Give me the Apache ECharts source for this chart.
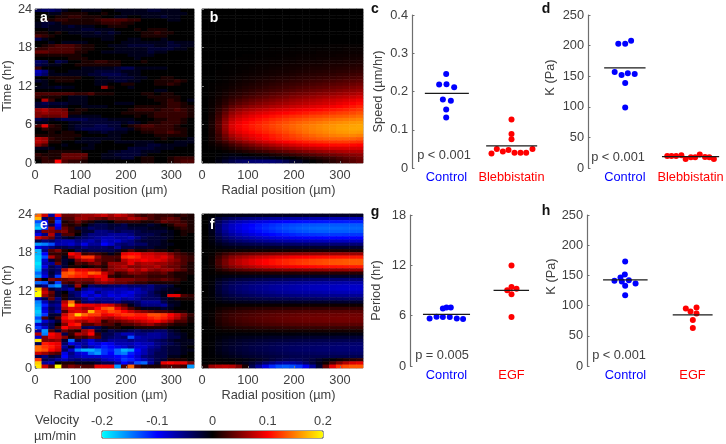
<!DOCTYPE html>
<html><head><meta charset="utf-8">
<style>html,body{margin:0;padding:0;background:#fff}#c{width:726px;height:444px;filter:blur(0.45px)}</style>
<script src="https://cdn.jsdelivr.net/npm/echarts@6/dist/echarts.min.js"></script>
</head><body><div id="c"></div>
<script>
// Heatmap rows run from t=24 hr (top) to t=0 (bottom), 24 radial columns.
// heatA, heatE in 0.01 µm/min; heatB, heatF in 0.001 µm/min.
const heatA=[
[-3,-4,-4,-3,-1,0,0,-1,-1,-1,0,0,-1,-1,-1,-1,-1,-2,-2,-1,-1,-1,0,0],
[0,0,-1,-1,1,1,1,1,0,0,1,0,0,-1,-1,-1,-1,-1,-1,-1,-1,-1,-1,0],
[0,0,0,1,1,2,2,1,1,1,0,0,-1,-1,0,0,-1,-1,-1,-2,-1,-1,0,0],
[0,1,1,2,2,1,1,1,1,2,3,3,3,3,2,2,0,0,0,0,-1,-1,0,0],
[-1,-2,-2,-1,1,1,1,1,1,1,2,2,2,1,1,0,0,0,0,0,0,0,0,0],
[-1,-2,-1,-1,-1,-2,-1,-1,-1,0,0,1,1,1,0,0,0,0,0,0,0,0,0,0],
[0,0,-1,-1,-1,-1,-1,-2,-2,-1,-1,-1,0,0,0,1,0,1,1,1,0,0,0,0],
[1,1,0,1,0,-1,-1,-1,-1,-2,-1,-2,-1,0,0,0,1,1,2,1,1,0,0,0],
[3,2,1,0,0,0,0,-1,-1,-1,-1,-1,0,0,0,0,1,1,1,1,0,0,0,0],
[-3,-1,0,0,0,0,0,0,0,0,-1,-1,0,0,-1,-1,0,0,0,-1,0,0,0,0],
[0,0,-1,0,-1,-1,-1,-1,0,0,0,0,0,-1,-1,-1,-1,-1,-1,-1,-2,-1,-1,-1],
[0,1,2,3,3,3,2,1,1,0,0,-1,-1,-1,-2,-2,-2,-2,-1,-1,-2,-2,-1,-1],
[2,2,3,3,3,3,2,1,1,0,0,0,-1,-1,-1,-1,-1,-2,-2,-2,-2,-1,-1,0],
[4,4,3,3,3,3,1,1,0,0,-1,-1,-1,-1,-1,-1,-1,-2,-1,-1,0,0,0,0],
[1,1,1,1,1,1,1,0,0,0,0,0,0,0,-1,-1,-1,-1,0,0,0,0,0,0],
[0,0,0,0,0,1,1,1,0,0,0,0,0,0,0,-1,0,0,0,0,0,0,0,0],
[-4,-3,0,-3,-2,0,0,1,1,2,2,1,1,0,0,0,1,0,0,0,0,0,0,0],
[-3,-2,-1,-1,0,0,1,1,1,1,1,1,1,0,0,0,0,0,0,0,0,0,0,0],
[2,0,0,0,0,0,0,-1,-1,-1,-1,-1,-2,-3,-3,-1,-1,-1,-1,-1,0,0,0,0],
[-7,-5,-1,0,0,-1,-1,-1,-1,-2,-2,-2,-2,-1,-1,-1,0,0,0,0,0,0,0,0],
[-6,-4,-1,-1,-1,-1,-1,-1,-2,-2,-3,-3,-3,-2,-1,-1,0,0,0,0,0,0,0,0],
[0,0,1,1,1,1,1,0,0,-1,-1,-2,-2,-2,-2,-1,-1,0,0,1,1,0,0,0],
[-2,-1,0,1,1,1,0,0,0,-1,-1,-1,-2,-2,-1,-1,0,0,1,1,1,2,1,0],
[0,-1,0,0,0,0,0,0,0,-1,-1,0,0,1,1,0,0,0,1,1,2,1,0,0],
[-1,-1,-1,-2,-1,-1,0,0,0,0,6,1,0,0,-1,0,0,0,0,0,0,0,0,0],
[0,0,0,0,0,0,0,0,0,0,0,0,0,0,0,0,0,0,-1,-1,0,0,0,0],
[3,3,3,3,3,3,2,2,3,1,1,1,0,0,0,0,1,1,0,1,1,0,0,0],
[2,1,1,1,0,-1,-1,-1,0,0,0,0,0,0,0,0,0,1,1,1,1,1,0,0],
[0,7,2,0,0,-1,-1,-1,0,0,0,0,0,0,0,0,0,0,1,1,2,1,0,-1],
[-2,-3,-2,-2,-2,-1,-1,-1,0,0,0,0,-1,-1,-1,0,0,0,0,1,2,2,1,0],
[-2,-2,-1,-1,-1,0,0,-1,-1,-1,-1,0,0,0,0,1,1,1,1,1,2,2,1,1],
[6,7,5,5,4,0,1,1,0,0,0,0,0,0,1,2,2,2,1,2,2,3,2,1],
[5,6,5,5,5,1,1,0,0,0,0,0,0,1,1,1,1,1,2,2,2,2,2,1],
[5,4,4,4,5,-1,-1,-1,-1,-1,0,0,0,0,0,1,0,1,2,2,2,2,2,1],
[-3,-2,-1,-2,-3,-3,-3,-3,-2,-2,-2,-1,-1,-1,-1,0,0,0,1,1,2,2,1,0],
[-1,-1,0,0,0,-1,-1,-2,-2,-2,-2,-2,-2,-1,-2,-1,0,1,1,2,2,2,1,0],
[3,9,2,1,0,-1,-2,-2,-2,-3,-3,-2,-2,0,1,2,3,3,2,2,2,1,0,0],
[0,2,1,1,0,-1,-2,-3,-3,-3,-3,-3,-2,-2,-1,1,2,2,2,2,2,1,1,0],
[0,0,1,0,1,1,0,0,-1,-1,-2,-1,-1,-1,0,0,1,1,2,2,3,2,1,0],
[1,1,1,1,1,1,1,0,0,0,0,-1,-1,0,0,0,0,0,1,1,1,1,1,0],
[7,6,2,1,1,1,0,-1,-1,-1,-1,-1,-1,0,0,0,0,0,0,1,0,0,0,-1],
[7,6,1,1,0,0,-1,-1,-1,-1,0,0,-1,-1,-1,-1,-1,-1,0,0,0,-1,-1,-1],
[5,3,0,0,-1,0,0,0,-1,0,0,0,0,0,0,-1,-1,-2,-2,-1,-1,-1,-1,0],
[-1,-1,-1,0,0,0,0,-1,-1,0,0,0,0,0,-2,-2,-2,-2,-1,-1,-1,0,0,0],
[0,0,1,1,1,1,1,0,0,0,0,-1,-1,-2,-2,-2,-1,-1,-1,0,0,0,0,0],
[2,1,1,1,4,4,4,4,0,0,-1,-1,-2,-2,-2,-2,-1,0,0,0,0,0,0,0],
[1,2,1,1,4,4,4,3,0,0,-1,-1,-1,-2,-2,0,1,1,0,0,1,2,2,2],
[0,2,2,10,3,2,2,1,0,0,0,0,0,0,0,0,1,1,0,0,1,2,3,3]];
const heatE=[
[14,8,-6,10,4,4,5,6,6,7,8,6,8,7,5,3,2,3,2,2,2,1,2,1],
[17,-4,3,-9,3,3,6,6,5,4,3,5,5,5,7,6,5,3,2,3,4,3,1,1],
[-13,-10,2,-12,1,2,4,2,1,-1,-1,0,2,2,2,2,1,1,2,4,3,3,2,1],
[-16,-8,-3,-10,2,1,2,0,-2,-3,-3,-2,-2,-3,-1,-1,-1,-2,-1,0,1,3,3,1],
[-18,-12,6,-8,4,2,-2,-2,-4,-3,-3,-2,-3,-3,-2,-2,-2,-1,-1,-1,0,1,2,1],
[-6,5,5,4,5,2,1,-2,-2,-5,-5,-4,-3,-4,-4,-3,-2,-2,-2,-2,-1,0,1,1],
[-9,-5,7,-4,3,3,0,-3,-5,-5,-5,-6,-6,-6,-5,-3,-3,-3,-2,-1,-1,0,1,0],
[8,6,4,-4,-2,-1,-3,-4,-5,-6,-7,-7,-6,-6,-7,-5,-3,-2,-2,-2,-1,0,0,0],
[-3,-5,-4,-6,-7,-7,-5,-6,-7,-5,-8,-7,-8,-6,-5,-3,-2,-2,-2,-1,0,0,0,0],
[-16,-15,-13,-7,-7,-8,-6,-9,-6,-6,-10,-8,-5,-4,-5,-4,-4,-2,-2,-1,-1,0,0,0],
[-9,-7,-5,-3,-3,-4,-3,-5,-4,-4,-4,-3,-6,-3,-3,-2,-2,-2,-1,-1,0,0,0,0],
[-17,-5,3,5,1,0,-3,-2,-3,-3,-3,-3,-2,1,3,1,1,2,1,1,0,1,0,0],
[-17,-10,2,2,1,10,8,2,3,2,1,-1,1,9,10,10,8,8,7,7,5,3,2,1],
[-18,-13,7,3,-1,6,9,12,12,6,3,3,3,11,12,11,9,9,8,9,7,4,3,2],
[-18,-8,-2,2,-2,-1,5,7,8,4,3,3,2,7,9,9,10,9,9,8,6,5,3,2],
[-19,-7,-6,4,-2,0,3,2,4,5,2,6,6,6,9,6,7,7,6,6,5,4,3,1],
[-18,-9,-3,-5,-2,1,1,0,1,2,1,5,6,7,5,5,6,6,7,5,4,4,2,1],
[-17,-6,-3,-4,7,12,9,9,8,7,3,5,6,6,8,6,8,6,5,6,6,4,3,1],
[-14,-7,-2,-5,13,14,12,11,14,13,8,5,2,3,5,5,4,3,3,4,2,1,1,1],
[-16,-9,-3,-12,13,12,11,11,9,10,9,2,1,2,2,3,3,2,2,2,2,1,1,0],
[4,0,5,4,4,5,5,5,5,7,9,7,5,5,5,4,4,3,3,4,3,2,1,0],
[-14,-13,-2,-12,3,2,4,3,3,5,6,5,4,4,3,2,2,1,1,1,1,1,0,0],
[-3,-5,-14,-16,-4,-2,6,0,-4,-3,-3,-4,-4,-5,-4,-4,-4,-5,-3,-3,-2,0,0,0],
[18,6,-2,-4,-5,-7,1,-5,-7,-7,-6,-6,-7,-7,-6,-7,-5,-5,-3,-2,-1,-1,0,0],
[20,8,4,-2,0,-4,-5,-8,-9,-5,-7,-8,-7,-8,-9,-7,-6,-4,-2,-1,-1,0,0,0],
[20,6,3,-2,1,-3,-5,-9,-7,-9,-7,-9,-8,-9,-8,-6,-5,-4,-3,-1,9,9,3,2],
[-7,-3,4,-5,1,-3,-3,-5,-8,-6,-6,-6,-8,-6,-7,-6,-4,-4,-4,-2,-1,1,1,1],
[-15,-7,-3,-4,7,14,2,-4,-5,-4,-5,-5,-5,-3,-3,-4,-6,-6,-6,-3,-1,-1,0,0],
[-16,-11,-5,-6,9,17,10,9,9,8,9,8,5,3,-1,-3,-5,-5,-5,-6,-2,-1,0,0],
[-17,-8,-3,-5,7,9,8,6,7,10,13,14,9,6,3,1,-1,-1,-1,-2,-1,0,0,0],
[-18,-9,-4,-7,3,8,9,8,17,12,11,13,12,10,8,6,5,4,3,3,2,1,1,0],
[-17,-12,-2,-2,8,12,18,14,12,12,9,10,11,12,12,11,11,13,13,12,10,8,5,2],
[-13,3,-1,3,10,12,11,10,9,8,7,6,8,9,10,10,10,11,12,11,9,7,4,1],
[-16,-8,-5,-2,8,9,7,6,8,7,2,4,4,5,6,7,8,9,10,8,6,3,3,1],
[-8,-5,-3,0,5,10,11,3,3,5,3,3,1,3,3,4,5,6,4,3,2,1,1,0],
[-12,-8,-3,3,10,7,7,-3,-4,-3,-1,1,1,0,0,1,1,1,1,1,0,0,0,0],
[-6,-16,3,-2,4,2,1,6,8,-2,-1,-3,-2,-2,-3,-4,-3,-3,-4,-4,-2,-1,0,0],
[7,-15,10,8,-3,2,7,6,10,2,-3,-3,-5,-7,-7,-5,-5,-6,-6,-5,-3,-2,-1,0],
[-8,5,9,8,5,1,3,2,4,3,-3,-4,-5,-4,-13,-7,-6,-6,-6,-5,-3,-3,-1,0],
[19,5,5,6,-2,-14,-3,-6,-8,-5,-4,-6,-6,-6,-5,-6,-6,-5,-4,-3,-2,-1,-1,-1],
[-3,11,10,9,-4,-9,-7,-6,-9,-8,-10,-9,-7,-7,-7,-8,-7,-7,-5,-4,-3,-2,-1,-1],
[14,12,11,9,-6,-2,-8,-5,-7,-9,-11,-10,-9,-8,-6,-8,-8,-6,-5,-3,-2,-2,-1,0],
[14,13,10,8,-4,-8,-15,-17,-17,-15,-12,-11,-14,-17,-16,-10,-7,-5,-4,-3,-2,-2,-1,-1],
[8,6,4,3,-9,-5,-8,-9,-14,-16,-12,-10,-14,-15,-11,-9,-7,-5,-3,-3,-2,-2,-1,0],
[-3,-5,-2,-3,-10,-6,-7,-8,-8,-8,-9,-9,-10,-11,-10,-8,-5,-4,-3,-3,-1,-1,0,0],
[12,-3,-4,-6,-7,-5,-4,-5,-5,-5,-7,-8,-9,-12,-11,-9,-7,-5,-3,-2,1,1,1,0],
[18,-6,-7,0,1,1,-1,-1,-1,-2,-3,-3,-6,-10,-7,-13,-14,-6,-2,9,10,9,9,5],
[19,8,3,20,3,5,4,3,3,9,9,9,-16,3,14,3,1,1,1,3,3,3,2,-16]];
const heatB=[
[0,0,0,0,0,0,0,0,0,0,0,0,0,0,0,0,0,0,0,0,0,0,0,0],
[0,0,0,0,0,0,0,0,0,0,0,0,0,0,0,0,0,0,0,0,0,0,0,0],
[0,0,0,0,0,0,0,0,0,0,0,0,0,0,0,0,0,0,0,0,0,0,0,0],
[0,0,0,0,0,0,0,0,0,0,0,0,0,0,0,0,0,0,0,0,0,0,0,0],
[0,0,0,0,0,0,0,0,0,0,0,0,0,0,0,0,0,0,0,0,0,0,0,0],
[0,0,0,0,0,0,0,0,0,0,0,0,0,0,0,0,0,0,0,0,0,0,0,0],
[0,0,0,0,0,0,0,0,0,0,0,0,0,0,0,0,0,0,0,0,0,0,0,0],
[0,0,0,0,0,0,0,0,0,0,0,0,0,0,0,0,0,0,0,0,0,0,0,0],
[0,0,0,0,0,0,0,0,0,0,0,0,0,0,0,0,0,0,0,0,0,0,0,0],
[0,0,0,0,0,0,0,0,0,0,0,0,0,0,0,0,0,0,0,0,0,0,0,0],
[0,0,0,0,0,0,0,0,0,0,0,0,0,0,0,0,0,0,0,0,0,0,0,0],
[0,0,0,0,0,0,0,0,0,0,0,0,0,0,1,1,1,1,1,2,2,2,2,2],
[0,0,0,0,0,0,0,0,0,0,1,1,1,1,1,1,2,2,2,2,2,3,3,3],
[0,0,0,0,0,0,0,0,1,1,1,1,1,2,2,2,2,3,3,3,3,4,4,4],
[0,0,0,0,0,0,1,1,1,1,1,2,2,2,3,3,3,4,4,4,5,5,6,6],
[0,0,0,0,0,1,1,1,1,2,2,2,3,3,4,4,4,5,5,6,6,7,7,8],
[0,0,0,0,1,1,1,1,2,2,3,3,4,4,5,5,6,6,7,8,8,9,9,10],
[0,0,0,1,1,1,2,2,3,3,4,4,5,6,6,7,8,8,9,10,10,11,12,13],
[0,0,0,1,1,2,2,3,4,4,5,6,7,7,8,9,10,10,11,12,13,14,15,16],
[0,0,1,1,2,2,3,4,5,6,7,8,8,9,10,11,12,13,14,15,16,17,19,20],
[0,0,1,1,2,3,4,5,6,7,8,9,10,11,13,14,15,16,17,18,20,21,23,25],
[0,0,1,2,3,4,5,7,8,9,11,12,13,14,16,17,18,20,21,22,24,26,28,30],
[0,0,1,2,4,5,7,8,10,12,13,15,16,18,19,21,23,24,26,28,30,32,34,36],
[0,1,2,3,5,7,9,11,13,15,17,19,21,22,24,26,28,30,32,34,36,38,41,44],
[0,1,3,4,7,9,12,14,16,19,21,23,25,27,30,32,34,36,38,41,43,46,49,52],
[0,1,3,6,9,12,15,18,21,23,26,28,31,33,36,38,41,43,46,48,51,54,57,60],
[0,2,4,8,12,15,19,22,26,29,32,35,38,41,44,46,49,52,54,57,60,63,66,70],
[0,2,6,10,16,20,25,29,33,36,40,43,46,50,53,56,59,62,65,68,71,74,78,82],
[0,3,8,14,22,28,33,38,42,46,49,53,56,60,63,66,69,72,76,79,82,86,90,95],
[0,3,9,17,27,34,40,45,50,54,57,61,64,67,70,73,76,79,82,85,90,94,99,104],
[0,4,12,23,36,44,50,56,60,64,68,71,75,78,81,84,87,90,93,96,100,104,108,113],
[0,5,16,30,46,56,63,68,73,77,81,85,88,91,94,97,99,102,105,108,111,114,118,122],
[0,6,20,38,56,66,74,80,85,89,93,97,100,103,106,109,112,114,117,120,123,125,128,132],
[0,7,24,45,65,76,84,90,96,101,105,109,113,116,119,122,125,127,130,132,134,136,139,142],
[0,8,27,52,74,85,93,99,105,110,115,119,123,127,130,133,136,138,141,143,146,148,150,152],
[0,9,30,57,81,92,100,106,111,116,121,126,130,134,138,141,144,147,150,153,155,157,159,160],
[0,10,31,60,86,96,104,110,115,120,125,130,135,139,143,147,150,153,156,158,161,162,164,165],
[0,9,30,58,83,94,102,108,113,118,123,128,133,138,142,146,150,153,156,159,162,163,165,165],
[0,8,27,53,77,87,95,102,108,113,118,123,128,133,138,143,147,150,153,156,159,160,161,160],
[0,7,22,44,65,76,85,92,98,104,110,115,120,125,130,135,139,143,146,149,151,152,152,150],
[0,7,21,38,55,67,77,86,93,100,106,111,116,120,124,128,131,134,136,138,139,139,138,135],
[0,5,14,25,38,48,58,66,74,81,87,93,98,103,107,111,114,117,119,121,122,122,120,118],
[0,3,8,14,24,32,40,47,55,61,67,73,78,83,88,92,96,99,101,103,104,104,102,100],
[0,1,3,7,13,19,25,31,37,42,47,52,57,61,66,70,74,77,80,83,84,85,85,85],
[0,0,0,2,5,8,12,16,20,24,29,33,37,42,46,50,54,58,61,64,67,69,70,70],
[0,0,-1,-3,-5,-3,0,2,4,6,10,13,17,21,25,29,33,37,40,44,47,50,53,55],
[0,0,-3,-8,-14,-15,-14,-13,-11,-10,-7,-4,-2,1,5,9,12,16,20,24,30,35,40,45],
[0,-1,-8,-18,-28,-36,-40,-44,-46,-46,-45,-40,-30,-20,-14,-5,0,5,10,16,22,28,34,40]];
const heatF=[
[0,-1,-4,-6,-7,-8,-9,-10,-11,-11,-12,-12,-13,-13,-13,-14,-14,-14,-14,-15,-15,-15,-15,-15],
[0,-6,-20,-30,-38,-43,-48,-51,-54,-57,-60,-62,-64,-65,-66,-67,-68,-69,-69,-70,-70,-70,-70,-70],
[0,-8,-32,-50,-62,-70,-76,-81,-86,-90,-94,-97,-100,-102,-104,-105,-106,-107,-108,-109,-109,-110,-110,-110],
[0,-11,-40,-62,-76,-86,-94,-100,-107,-112,-117,-121,-125,-128,-130,-132,-133,-134,-135,-135,-135,-135,-135,-135],
[0,-11,-42,-64,-78,-88,-96,-103,-110,-116,-121,-126,-130,-133,-136,-138,-140,-141,-141,-141,-141,-140,-140,-140],
[0,-10,-38,-58,-72,-82,-90,-97,-104,-110,-115,-120,-124,-128,-131,-133,-135,-136,-136,-136,-136,-136,-135,-135],
[0,-9,-32,-50,-62,-71,-79,-85,-91,-97,-102,-106,-110,-113,-116,-118,-119,-120,-121,-121,-121,-120,-120,-120],
[0,-7,-25,-40,-50,-58,-64,-69,-74,-79,-83,-87,-90,-93,-95,-97,-98,-99,-100,-100,-100,-100,-100,-100],
[0,-5,-18,-29,-37,-42,-47,-51,-55,-58,-61,-64,-66,-68,-70,-71,-72,-73,-74,-74,-75,-75,-75,-75],
[0,-3,-10,-17,-22,-25,-28,-30,-32,-34,-36,-38,-39,-40,-41,-42,-43,-44,-44,-45,-45,-45,-45,-45],
[0,-1,-4,-7,-9,-10,-11,-12,-13,-14,-14,-15,-16,-16,-17,-17,-17,-18,-18,-18,-18,-18,-18,-18],
[0,0,2,3,4,4,5,5,5,6,6,6,7,7,7,7,8,8,8,8,8,8,8,8],
[0,2,12,22,30,35,38,41,44,46,48,50,52,53,54,55,56,57,58,58,59,59,60,60],
[0,4,22,38,52,60,66,72,78,82,86,90,93,96,98,100,102,104,105,106,107,108,109,110],
[0,5,28,46,62,72,80,88,94,100,105,110,114,117,120,122,125,127,129,131,132,134,135,135],
[0,5,28,46,62,72,80,88,94,100,105,110,114,118,121,124,126,128,130,132,133,134,135,135],
[0,4,22,38,50,58,65,71,77,82,86,90,93,96,98,100,102,104,105,106,107,108,109,110],
[0,2,12,20,27,32,36,39,42,45,47,49,51,52,53,54,55,56,57,58,58,59,60,60],
[0,1,3,5,7,8,9,10,10,11,12,12,13,13,14,14,14,14,15,15,15,15,15,15],
[0,-1,-3,-6,-7,-8,-9,-10,-11,-11,-12,-12,-13,-13,-14,-14,-14,-14,-15,-15,-15,-15,-15,-15],
[0,-2,-10,-16,-21,-24,-26,-28,-30,-32,-34,-35,-36,-38,-39,-40,-41,-42,-43,-44,-44,-45,-45,-45],
[0,-3,-16,-25,-31,-36,-39,-42,-45,-47,-49,-51,-53,-55,-57,-58,-60,-61,-62,-63,-64,-65,-65,-65],
[0,-4,-20,-30,-38,-43,-47,-51,-54,-57,-60,-62,-64,-66,-68,-70,-72,-73,-74,-75,-76,-77,-78,-78],
[0,-4,-20,-31,-39,-44,-48,-52,-55,-58,-61,-63,-65,-67,-69,-71,-73,-74,-75,-76,-78,-79,-80,-80],
[0,-3,-18,-28,-35,-40,-44,-47,-50,-53,-55,-58,-60,-62,-63,-64,-65,-66,-68,-69,-70,-71,-72,-72],
[0,-3,-14,-22,-28,-32,-35,-38,-41,-43,-45,-47,-48,-50,-51,-52,-53,-54,-55,-56,-57,-57,-58,-58],
[0,-2,-9,-15,-19,-22,-24,-26,-28,-30,-31,-32,-33,-34,-35,-36,-37,-38,-38,-39,-39,-40,-40,-40],
[0,-1,-4,-7,-9,-10,-11,-12,-13,-13,-14,-14,-15,-15,-16,-16,-16,-17,-17,-17,-18,-18,-18,-18],
[0,0,1,2,2,3,3,3,3,4,4,4,4,4,4,5,5,5,5,5,5,5,5,5],
[0,1,6,9,11,13,14,15,16,17,17,18,18,19,19,20,20,20,21,21,21,22,22,22],
[0,2,9,14,17,20,22,24,26,27,28,29,30,30,31,32,32,33,33,34,34,35,35,35],
[0,3,12,18,22,25,27,29,31,33,35,36,37,38,39,40,40,41,41,42,42,43,43,43],
[0,3,13,19,24,27,30,32,34,36,37,39,40,41,42,43,44,44,45,45,46,46,46,46],
[0,3,12,18,22,25,28,30,32,34,35,37,38,39,40,41,42,42,43,43,44,44,44,44],
[0,2,10,15,18,21,23,25,26,28,29,30,31,32,32,33,33,34,34,34,35,35,35,35],
[0,1,6,9,11,13,14,15,17,18,18,19,20,20,21,21,21,21,22,22,22,22,22,22],
[0,0,2,3,4,4,5,5,6,6,6,7,7,7,7,7,8,8,8,8,8,8,8,8],
[0,0,-1,-2,-2,-3,-3,-3,-3,-4,-4,-4,-4,-4,-5,-5,-5,-5,-5,-5,-6,-6,-6,-6],
[0,-1,-4,-6,-8,-9,-10,-11,-12,-13,-14,-14,-15,-15,-16,-16,-17,-17,-18,-18,-19,-19,-20,-20],
[0,-1,-6,-10,-13,-15,-17,-18,-20,-21,-22,-23,-24,-25,-26,-27,-28,-29,-29,-30,-30,-31,-31,-32],
[0,-2,-8,-12,-15,-18,-21,-23,-25,-27,-29,-31,-32,-33,-34,-35,-36,-37,-38,-39,-40,-41,-41,-42],
[0,-2,-9,-14,-18,-21,-24,-27,-29,-31,-33,-35,-37,-38,-39,-40,-41,-42,-43,-44,-45,-45,-46,-46],
[0,-2,-9,-14,-18,-21,-24,-27,-29,-31,-33,-35,-37,-39,-40,-41,-42,-43,-44,-44,-45,-45,-46,-46],
[0,-2,-7,-11,-15,-18,-21,-23,-25,-27,-29,-31,-33,-34,-35,-36,-37,-38,-39,-39,-40,-40,-40,-40],
[0,-1,-4,-7,-10,-13,-16,-18,-20,-22,-24,-26,-28,-30,-31,-31,-31,-31,-31,-31,-30,-30,-30,-30],
[0,0,-1,-2,-3,-4,-6,-9,-13,-18,-24,-29,-33,-35,-34,-30,-24,-16,-8,-2,5,10,14,18],
[0,2,2,1,0,-5,-10,-18,-28,-40,-50,-60,-65,-62,-55,-40,-25,-10,5,30,50,70,85,90],
[10,60,70,75,70,50,10,-30,-60,-90,-115,-130,-135,-130,-120,-95,-60,-20,40,90,120,130,135,135]];

// Dot plots: x in group units (first group = 1, second = 2), y in axis units.
const speedControlX=[0.995,0.887,1,1.118,0.944,1.067,0.995,0.995];
const speedControlY=[0.246,0.218,0.219,0.211,0.179,0.176,0.153,0.132];
const speedBlebbX=[2,2,2,1.692,1.774,1.867,1.954,2.046,2.138,2.226,2.323];
const speedBlebbY=[0.127,0.089,0.075,0.038,0.05,0.043,0.047,0.04,0.04,0.04,0.05];
const stiffControlX=[0.9,1.005,1.095,0.845,0.95,1.045,1.15,1.005,1.005];
const stiffControlY=[203,203,208,157,152,155,153.5,139,99];
const stiffBlebbX=[1.645,1.71,1.78,1.86,1.925,2.005,2.07,2.14,2.22,2.285,2.355];
const stiffBlebbY=[19.7,19.7,19.7,20.8,14.8,17.5,17.5,22,18,17.5,14.8];
const periodControlX=[0.74,0.847,0.944,1.05,1.158,1.255,0.944,1,1.066];
const periodControlY=[5.67,5.87,5.83,5.83,5.67,5.59,6.86,6.98,6.98];
const periodEgfX=[2,2,1.934,2.077,2,2];
const periodEgfY=[11.97,9.42,9.02,9.22,8.54,5.83];
const kControlX=[0.995,0.99,0.925,0.835,0.945,1.05,0.995,1.15,0.995];
const kControlY=[172.9,151.4,146.5,141,139.9,142,133,136.6,117];
const kEgfX=[1.9,2.06,1.97,2.06,2.005,2.005];
const kEgfY=[95.3,97,90.3,87,76,62.8];
// Mean lines: [x start, x end, level]
const speedMeans=[[0.667,1.344,0.195],[1.61,2.395,0.058]];
const stiffMeans=[[0.685,1.315,163.5],[1.565,2.435,18.6]];
const periodMeans=[[0.638,1.362,6.15],[1.724,2.27,9.02]];
const kMeans=[[0.665,1.33,142.6],[1.705,2.3,84.8]];
const radialTicks=[0,350,100], timeTicks=[0,24,6];
const colorTicks=[-0.2,0.2,0.1];

const TXT='#404040', AX='#6e6e6e', FONT='"Liberation Sans",Arial,sans-serif', FS=12.8;
const grid=[],xAxis=[],yAxis=[],series=[],graphic=[];
const cols=[...Array(24).keys()], rows=[...Array(48).keys()];
function text(t,x,y,o){graphic.push({type:'text',x,y,z:100,silent:true,style:Object.assign({text:t,fill:TXT,font:FS+'px '+FONT,textAlign:'center',textVerticalAlign:'middle'},o||{})});}

function heat(left,top,data,unit,showY){
  const g=grid.length;
  grid.push({left,top,width:161,height:154,show:true,borderColor:'#8c8c8c',borderWidth:1,backgroundColor:'transparent'});
  const cx=xAxis.length, cy=yAxis.length;
  xAxis.push({gridIndex:g,type:'category',data:cols,show:false});
  xAxis.push({gridIndex:g,type:'value',position:'bottom',min:radialTicks[0],max:radialTicks[1],interval:radialTicks[2],z:5,
    axisLine:{show:false},splitLine:{show:false},axisTick:{show:true,inside:true,length:2,lineStyle:{color:'#777'}},
    axisLabel:{show:true,color:TXT,fontFamily:FONT,fontSize:FS,margin:6,showMaxLabel:false},
    name:'Radial position (µm)',nameLocation:'middle',nameGap:21,nameTextStyle:{color:TXT,fontFamily:FONT,fontSize:FS,padding:[0,8,0,0]}});
  yAxis.push({gridIndex:g,type:'category',data:rows,inverse:true,show:false});
  yAxis.push({gridIndex:g,type:'value',position:'left',min:timeTicks[0],max:timeTicks[1],interval:timeTicks[2],z:5,
    axisLine:{show:false},splitLine:{show:false},axisTick:{show:true,inside:true,length:2,lineStyle:{color:'#777'}},
    axisLabel:{show:showY,color:TXT,fontFamily:FONT,fontSize:FS,margin:3,padding:[3,0,0,0]},
    name:showY?'Time (hr)':'',nameLocation:'middle',nameGap:20,nameTextStyle:{color:TXT,fontFamily:FONT,fontSize:FS}});
  const pts=[];
  data.forEach((row,r)=>row.forEach((v,c)=>pts.push([c,r,v*unit])));
  series.push({type:'heatmap',xAxisIndex:cx,yAxisIndex:cy,data:pts,silent:true,itemStyle:{borderWidth:0},emphasis:{disabled:true},progressive:0,animation:false});
}
function dots(left,top,height,axisOffset,yMax,yStep,cats,xs1,ys1,xs2,ys2,means,width,nameText,nameGap,namePad){
  const g=grid.length;
  grid.push({left,top,width,height});
  const xc=xAxis.length, xv=xc+1, yi=yAxis.length;
  xAxis.push({gridIndex:g,type:'category',data:cats,axisLine:{show:false},axisTick:{show:false},
    axisLabel:{fontFamily:FONT,fontSize:FS,margin:3,interval:0,color:(v,i)=>v==='Control'?'#0000ff':'#ff0000'}});
  xAxis.push({gridIndex:g,type:'value',min:0.5,max:2.5,show:false});
  yAxis.push({gridIndex:g,type:'value',min:0,max:yMax,interval:yStep,offset:axisOffset,splitLine:{show:false},
    axisLine:{show:true,lineStyle:{color:AX,width:1.2}},axisTick:{show:true,inside:true,length:2.5,lineStyle:{color:AX}},
    axisLabel:{color:TXT,fontFamily:FONT,fontSize:FS,margin:4,padding:[3,0,0,0]},
    name:nameText,nameLocation:'middle',nameGap,nameTextStyle:{color:TXT,fontFamily:FONT,fontSize:FS,padding:namePad}});
  const sc=(xs,ys,color)=>series.push({type:'scatter',xAxisIndex:xv,yAxisIndex:yi,symbol:'circle',symbolSize:6,silent:true,
    itemStyle:{color,opacity:1},data:xs.map((x,i)=>[x,ys[i]]),z:3,animation:false});
  means.forEach(m=>series.push({type:'line',xAxisIndex:xv,yAxisIndex:yi,data:[[m[0],m[2]],[m[1],m[2]]],showSymbol:false,silent:true,z:4,
    lineStyle:{color:'#1a1a1a',width:1.2},animation:false}));
  sc(xs1,ys1,'#0000ff'); sc(xs2,ys2,'#ff0000');
}
heat(33,9,heatA,0.01,true);
heat(202,9,heatB,0.001,false);
heat(33,214,heatE,0.01,true);
heat(202,214,heatF,0.001,false);
dots(414,15,153,2,0.4,0.1,['Control','Blebbistatin'],speedControlX,speedControlY,speedBlebbX,speedBlebbY,speedMeans,130,'Speed (µm/hr)',27,[0,0,0,0]);
dots(592,15,153,4,250,50,['Control','Blebbistatin'],stiffControlX,stiffControlY,stiffBlebbX,stiffBlebbY,stiffMeans,134,'K (Pa)',31,[0,0,0,28]);
dots(414,215,151,4,18,6,['Control','EGF'],periodControlX,periodControlY,periodEgfX,periodEgfY,periodMeans,130,'Period (hr)',27,[0,0,0,0]);
dots(592,215,151,5,250,50,['Control','EGF'],kControlX,kControlY,kEgfX,kEgfY,kMeans,134,'K (Pa)',25,[0,0,0,28]);

// colour bar scale
const cbGrid=grid.length;
grid.push({left:102,top:431,width:221,height:7,show:true,borderColor:'#444',borderWidth:1,backgroundColor:'transparent'});
xAxis.push({gridIndex:cbGrid,type:'value',position:'top',min:colorTicks[0],max:colorTicks[1],interval:colorTicks[2],
  axisLine:{show:false},axisTick:{show:false},splitLine:{show:false},
  axisLabel:{color:TXT,fontFamily:FONT,fontSize:FS,margin:3,formatter:v=>String(+v.toFixed(1))}});
yAxis.push({gridIndex:cbGrid,type:'value',show:false});

text('a',44,18,{fill:'#fff',font:'bold 14px '+FONT});
text('b',214,18,{fill:'#fff',font:'bold 14px '+FONT});
text('e',44,225,{fill:'#fff',font:'bold 14px '+FONT});
text('f',212,225,{fill:'#fff',font:'bold 14px '+FONT});
text('c',375,9,{fill:'#111',font:'bold 14px '+FONT});
text('d',546,9,{fill:'#111',font:'bold 14px '+FONT});
text('g',375,212,{fill:'#111',font:'bold 14px '+FONT});
text('h',546,211,{fill:'#111',font:'bold 14px '+FONT});
text('p < 0.001',444,155);
text('p < 0.001',618,157);
text('p = 0.005',442,355);
text('p < 0.001',619,355);
text('Velocity',57,420);
text('µm/min',55,436);

const option={animation:false,backgroundColor:'#fff',grid,xAxis,yAxis,series,graphic:{elements:graphic},
 visualMap:{type:'continuous',show:true,seriesIndex:[0,1,2,3],dimension:2,min:-0.2,max:0.2,orient:'horizontal',left:102,top:431,padding:0,
  itemWidth:7,itemHeight:221,text:null,showLabel:false,calculable:false,hoverLink:false,
  inRange:{color:['#00ffff','#0000ff','#000000','#ff0000','#ffff00']}}};
const chart=echarts.init(document.getElementById('c'),null,{renderer:'canvas'});
chart.setOption(option);
</script></body></html>
